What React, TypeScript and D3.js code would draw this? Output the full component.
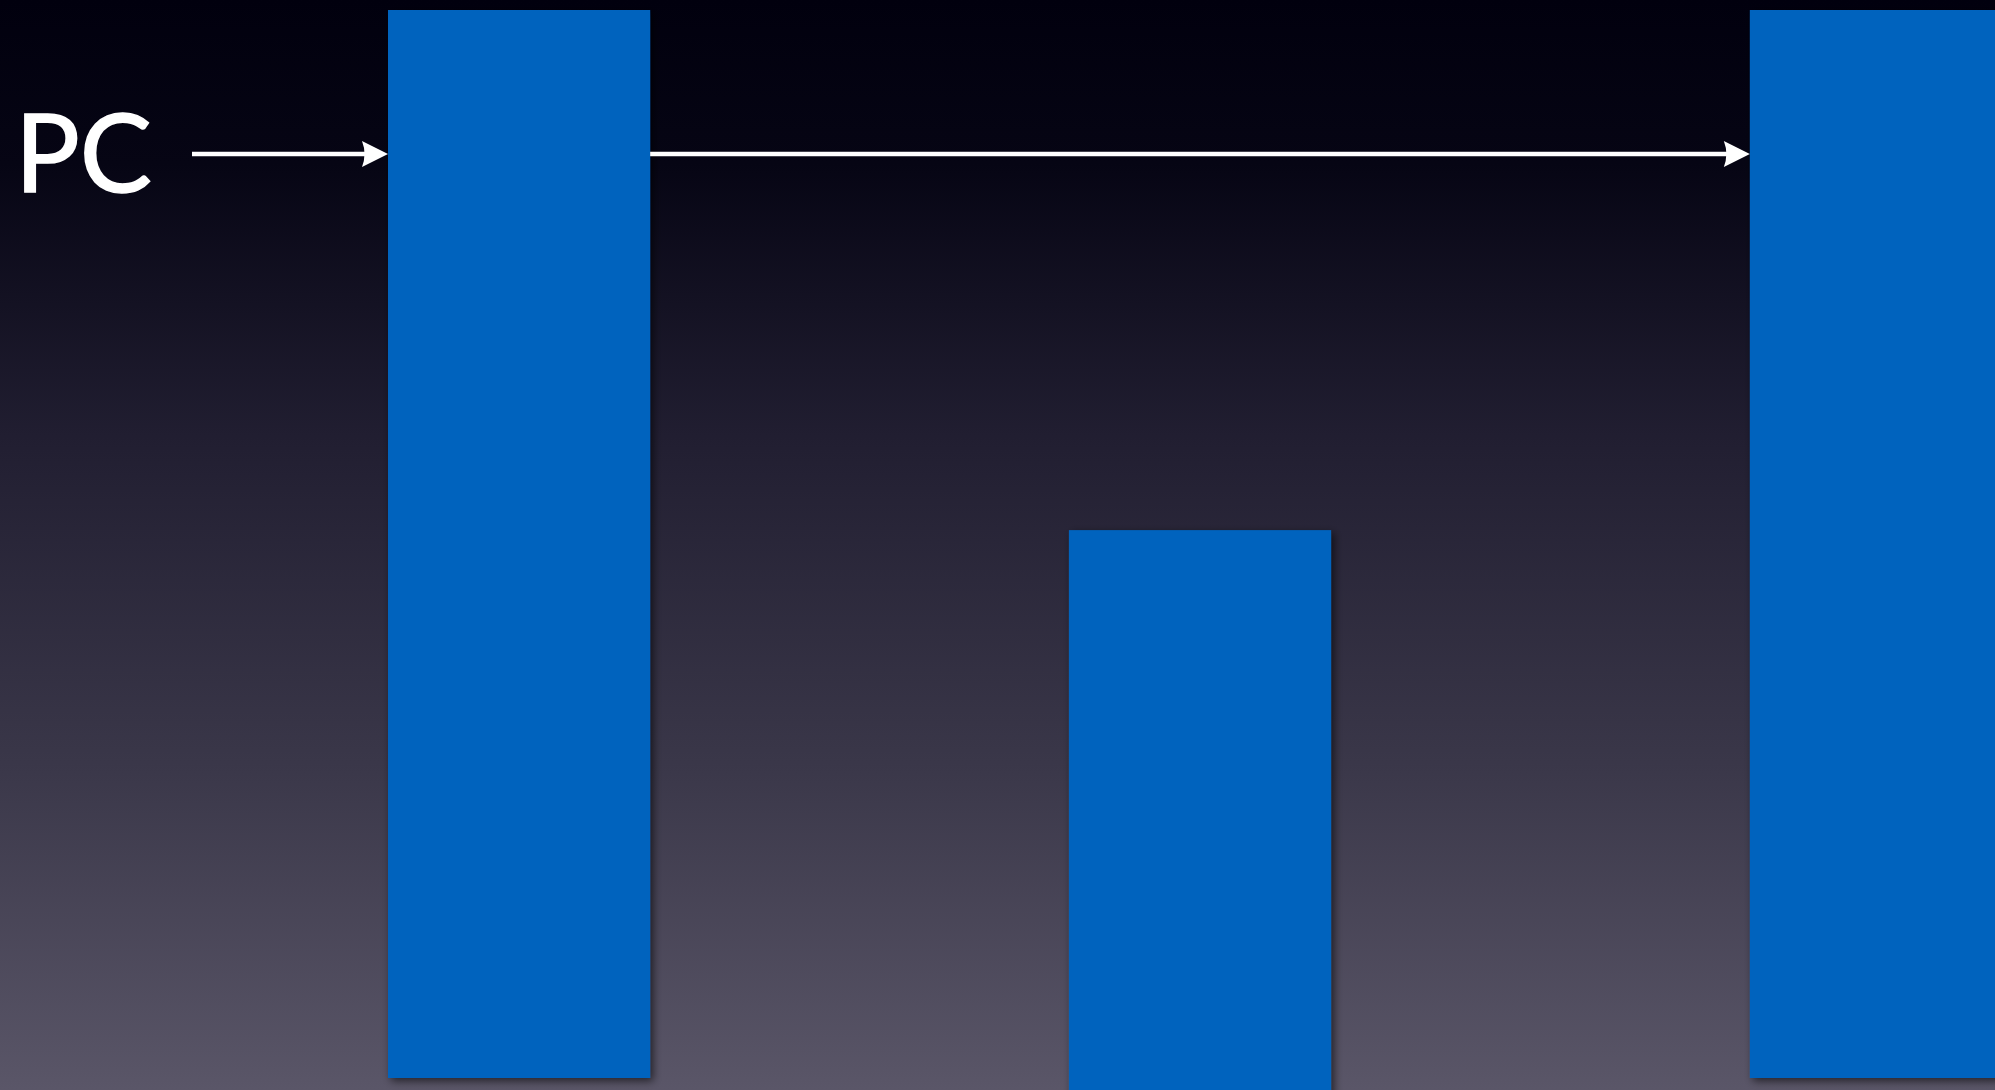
import React from "react";
import * as d3 from "d3";

const categories = ["Bar 1", "Bar 2", "Bar 3"];
const barTops = [100, 51.3, 100];
const barBases = [0, -2, 0];
const labelText = "PC";

const W = 1995;
const H = 1090;

export default function App() {
  const x = d3
    .scaleBand<string>()
    .domain(categories)
    .range([388, 2012])
    .paddingInner(0.615)
    .paddingOuter(0)
    .align(0);
  const y = d3.scaleLinear().domain([0, 100]).range([1078, 10]);

  const arrowY = 154;
  const b1 = x(categories[0])!;
  const b3 = x(categories[2])!;
  const bw = x.bandwidth();

  const arrows = [
    { x1: 192, x2: b1 },
    { x1: b1 + bw, x2: b3 },
  ];

  return (
    <svg
      width={W}
      height={H}
      style={{ position: "fixed", left: 0, top: 0, display: "block" }}
    >
      <defs>
        <linearGradient id="bg" x1="0" y1="0" x2="0" y2="1">
          <stop offset="0" stopColor="#01000e" />
          <stop offset="0.15" stopColor="#060514" />
          <stop offset="0.4" stopColor="#211e31" />
          <stop offset="0.7" stopColor="#3a3749" />
          <stop offset="1" stopColor="#5a5668" />
        </linearGradient>
        <filter id="shadow" x="-10%" y="-10%" width="130%" height="130%">
          <feDropShadow dx="3" dy="3" stdDeviation="4" floodColor="#000" floodOpacity="0.6" />
        </filter>
      </defs>
      <rect x={0} y={0} width={W} height={H} fill="url(#bg)" />
      {categories.map((c, i) => (
        <rect
          key={c}
          x={x(c)}
          y={y(barTops[i])}
          width={bw}
          height={y(barBases[i]) - y(barTops[i])}
          fill="#0063be"
          filter="url(#shadow)"
        />
      ))}
      {arrows.map((a, i) => (
        <g key={i}>
          <line
            x1={a.x1}
            x2={a.x2 - 18}
            y1={arrowY}
            y2={arrowY}
            stroke="#ffffff"
            strokeWidth={4.5}
          />
          <path
            d={`M${a.x2},${arrowY} L${a.x2 - 26},${arrowY - 13} Q${a.x2 - 21},${arrowY} ${a.x2 - 26},${arrowY + 13} Z`}
            fill="#ffffff"
          />
        </g>
      ))}
      <text
        x={15}
        y={192}
        fill="#ffffff"
        stroke="#ffffff"
        strokeWidth={1.5}
        fontFamily="Lato, 'Open Sans', sans-serif"
        fontSize={108}
      >
        {labelText}
      </text>
    </svg>
  );
}
